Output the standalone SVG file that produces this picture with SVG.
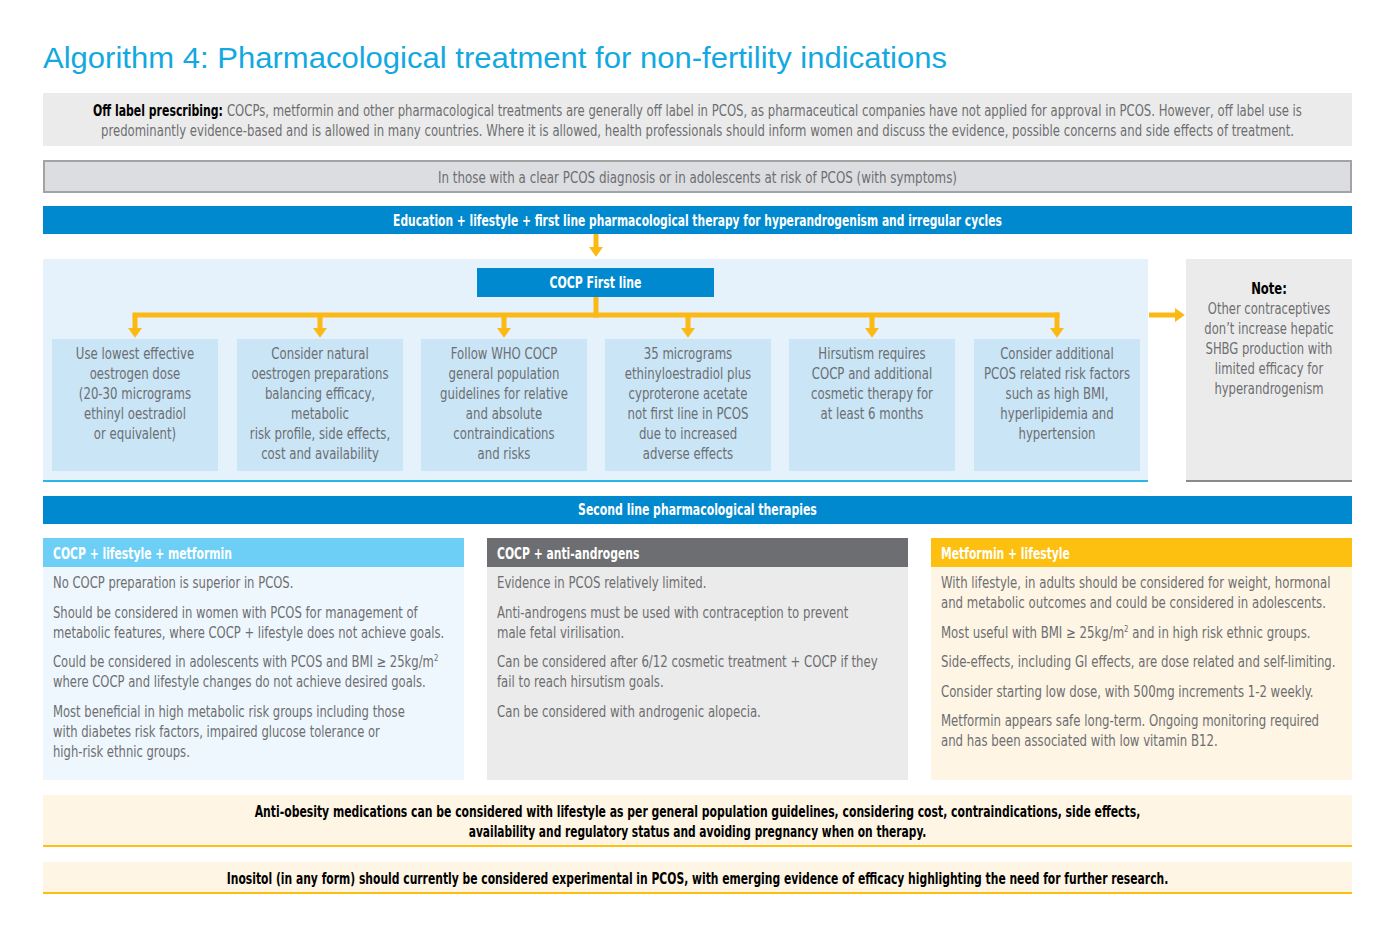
<svg xmlns="http://www.w3.org/2000/svg" width="1395" height="939" viewBox="0 0 1395 939">
<style>
.t{font-family:"Liberation Sans Narrow","Arial Narrow","DejaVu Sans Condensed",sans-serif;font-size:15px;fill:#6d6e71}
.c{text-anchor:middle}
.b{font-weight:bold}
.w{fill:#fff}
.k{fill:#000}
.y{stroke:#fdb913;stroke-width:5;fill:none}
.sup{font-size:9px}
.box{fill:#c9e5f6}
</style>
<defs>
<marker id="ah" viewBox="0 0 7 10" refX="0" refY="5" markerWidth="2" markerHeight="2.8" orient="auto" markerUnits="strokeWidth">
<path d="M0,0 L7,5 L0,10 z" fill="#fdb913"/>
</marker>
</defs>
<rect width="1395" height="939" fill="#fff"/>
<g id="title">
<text x="43" y="68" font-family="Liberation Sans, Arial, sans-serif" font-size="30" fill="#13a8e0" textLength="904" lengthAdjust="spacingAndGlyphs">Algorithm 4: Pharmacological treatment for non-fertility indications</text>
</g>
<g id="offlabel">
<rect x="43" y="93" width="1309" height="53" fill="#ebebeb"/>
<g transform="matrix(.87 0 0 1 0 0)">
<text class="t b k" x="106.9" y="116" textLength="149.4" lengthAdjust="spacingAndGlyphs">Off label prescribing:</text>
<text class="t" x="260.9" y="116" textLength="1235.6" lengthAdjust="spacingAndGlyphs">COCPs, metformin and other pharmacological treatments are generally off label in PCOS, as pharmaceutical companies have not applied for approval in PCOS. However, off label use is</text>
<text class="t" x="116.1" y="136" textLength="1371.3" lengthAdjust="spacingAndGlyphs">predominantly evidence-based and is allowed in many countries. Where it is allowed, health professionals should inform women and discuss the evidence, possible concerns and side effects of treatment.</text>
</g>
</g>
<g id="population">
<rect x="44" y="161" width="1307" height="31" fill="#dcdde0" stroke="#a3a3a3" stroke-width="2"/>
<text class="t c" x="697.5" y="183" font-size="14.2" textLength="519" lengthAdjust="spacingAndGlyphs">In those with a clear PCOS diagnosis or in adolescents at risk of PCOS (with symptoms)</text>
</g>
<g id="firstline-bar">
<rect x="43" y="206" width="1309" height="28" fill="#0089cf"/>
<g transform="matrix(.8 0 0 1 139.5 0)">
<text class="t c b w" x="697.5" y="226" textLength="761" lengthAdjust="spacingAndGlyphs">Education + lifestyle + first line pharmacological therapy for hyperandrogenism and irregular cycles</text>
</g>
</g>
<g id="firstline-panel">
<rect x="43" y="259" width="1105" height="222" fill="#e6f2fb"/>
<rect x="43" y="480" width="1105" height="2" fill="#29b6e8"/>
</g>
<g id="cocp">
<rect x="477" y="268" width="237" height="29" fill="#0089cf"/>
<g transform="matrix(.81 0 0 1 113.1 0)">
<text class="t c b w" x="595.5" y="288">COCP First line</text>
</g>
</g>
<g id="box1">
<rect class="box" x="52" y="339" width="166" height="132"/>
<g transform="matrix(.87 0 0 1 17.55 0)">
<text class="t c" x="135" y="359">Use lowest effective</text>
<text class="t c" x="135" y="379">oestrogen dose</text>
<text class="t c" x="135" y="399">(20-30 micrograms</text>
<text class="t c" x="135" y="419">ethinyl oestradiol</text>
<text class="t c" x="135" y="439">or equivalent)</text>
</g>
</g>
<g id="box2">
<rect class="box" x="237" y="339" width="166" height="132"/>
<g transform="matrix(.87 0 0 1 41.6 0)">
<text class="t c" x="320" y="359">Consider natural</text>
<text class="t c" x="320" y="379">oestrogen preparations</text>
<text class="t c" x="320" y="399">balancing efficacy,</text>
<text class="t c" x="320" y="419">metabolic</text>
<text class="t c" x="320" y="439">risk profile, side effects,</text>
<text class="t c" x="320" y="459">cost and availability</text>
</g>
</g>
<g id="box3">
<rect class="box" x="421" y="339" width="166" height="132"/>
<g transform="matrix(.87 0 0 1 65.52 0)">
<text class="t c" x="504" y="359">Follow WHO COCP</text>
<text class="t c" x="504" y="379">general population</text>
<text class="t c" x="504" y="399">guidelines for relative</text>
<text class="t c" x="504" y="419">and absolute</text>
<text class="t c" x="504" y="439">contraindications</text>
<text class="t c" x="504" y="459">and risks</text>
</g>
</g>
<g id="box4">
<rect class="box" x="605" y="339" width="166" height="132"/>
<g transform="matrix(.87 0 0 1 89.44 0)">
<text class="t c" x="688" y="359">35 micrograms</text>
<text class="t c" x="688" y="379">ethinyloestradiol plus</text>
<text class="t c" x="688" y="399">cyproterone acetate</text>
<text class="t c" x="688" y="419">not first line in PCOS</text>
<text class="t c" x="688" y="439">due to increased</text>
<text class="t c" x="688" y="459">adverse effects</text>
</g>
</g>
<g id="box5">
<rect class="box" x="789" y="339" width="166" height="132"/>
<g transform="matrix(.87 0 0 1 113.36 0)">
<text class="t c" x="872" y="359">Hirsutism requires</text>
<text class="t c" x="872" y="379">COCP and additional</text>
<text class="t c" x="872" y="399">cosmetic therapy for</text>
<text class="t c" x="872" y="419">at least 6 months</text>
</g>
</g>
<g id="box6">
<rect class="box" x="974" y="339" width="166" height="132"/>
<g transform="matrix(.87 0 0 1 137.41 0)">
<text class="t c" x="1057" y="359">Consider additional</text>
<text class="t c" x="1057" y="379">PCOS related risk factors</text>
<text class="t c" x="1057" y="399">such as high BMI,</text>
<text class="t c" x="1057" y="419">hyperlipidemia and</text>
<text class="t c" x="1057" y="439">hypertension</text>
</g>
</g>
<g id="note">
<rect x="1186" y="259" width="166" height="222" fill="#ebebeb"/>
<rect x="1186" y="480" width="166" height="2" fill="#8a8a8a"/>
<g transform="matrix(.86 0 0 1 177.66 0)">
<text class="t c b k" x="1269" y="294">Note:</text>
<text class="t c" x="1269" y="314">Other contraceptives</text>
<text class="t c" x="1269" y="334">don’t increase hepatic</text>
<text class="t c" x="1269" y="354">SHBG production with</text>
<text class="t c" x="1269" y="374">limited efficacy for</text>
<text class="t c" x="1269" y="394">hyperandrogenism</text>
</g>
</g>
<g id="connectors">
<line class="y" x1="596" y1="234" x2="596" y2="247" marker-end="url(#ah)"/>
<line class="y" x1="596" y1="297" x2="596" y2="317.5"/>
<line class="y" x1="132.5" y1="315" x2="1059.5" y2="315"/>
<line class="y" x1="135" y1="315" x2="135" y2="328" marker-end="url(#ah)"/>
<line class="y" x1="320" y1="315" x2="320" y2="328" marker-end="url(#ah)"/>
<line class="y" x1="504" y1="315" x2="504" y2="328" marker-end="url(#ah)"/>
<line class="y" x1="688" y1="315" x2="688" y2="328" marker-end="url(#ah)"/>
<line class="y" x1="872" y1="315" x2="872" y2="328" marker-end="url(#ah)"/>
<line class="y" x1="1057" y1="312.5" x2="1057" y2="328" marker-end="url(#ah)"/>
<line class="y" x1="1149" y1="315" x2="1175" y2="315" marker-end="url(#ah)"/>
</g>
<g id="secondline-bar">
<rect x="43" y="496" width="1309" height="28" fill="#0089cf"/>
<g transform="matrix(.81 0 0 1 132.5 0)">
<text class="t c b w" x="697.5" y="515">Second line pharmacological therapies</text>
</g>
</g>
<g id="col1">
<rect x="43" y="538" width="421" height="29" fill="#6dcff6"/>
<rect x="43" y="567" width="421" height="213" fill="#eef7fd"/>
<g transform="matrix(.8 0 0 1 10.6 0)">
<text class="t b w" x="53" y="559">COCP + lifestyle + metformin</text>
</g>
<g transform="matrix(.86 0 0 1 7.42 0)">
<text class="t" x="53" y="588">No COCP preparation is superior in PCOS.</text>
<text class="t" x="53" y="618">Should be considered in women with PCOS for management of</text>
<text class="t" x="53" y="638">metabolic features, where COCP + lifestyle does not achieve goals.</text>
<text class="t" x="53" y="667">Could be considered in adolescents with PCOS and BMI ≥ 25kg/m<tspan class="sup" dy="-6">2</tspan></text>
<text class="t" x="53" y="687">where COCP and lifestyle changes do not achieve desired goals.</text>
<text class="t" x="53" y="717">Most beneficial in high metabolic risk groups including those</text>
<text class="t" x="53" y="737">with diabetes risk factors, impaired glucose tolerance or</text>
<text class="t" x="53" y="757">high-risk ethnic groups.</text>
</g>
</g>
<g id="col2">
<rect x="487" y="538" width="421" height="29" fill="#6d6e71"/>
<rect x="487" y="567" width="421" height="213" fill="#ebebeb"/>
<g transform="matrix(.8 0 0 1 99.4 0)">
<text class="t b w" x="497" y="559">COCP + anti-androgens</text>
</g>
<g transform="matrix(.87 0 0 1 64.61 0)">
<text class="t" x="497" y="588">Evidence in PCOS relatively limited.</text>
<text class="t" x="497" y="618">Anti-androgens must be used with contraception to prevent</text>
<text class="t" x="497" y="638">male fetal virilisation.</text>
<text class="t" x="497" y="667">Can be considered after 6/12 cosmetic treatment + COCP if they</text>
<text class="t" x="497" y="687">fail to reach hirsutism goals.</text>
<text class="t" x="497" y="717">Can be considered with androgenic alopecia.</text>
</g>
</g>
<g id="col3">
<rect x="931" y="538" width="421" height="29" fill="#fdc010"/>
<rect x="931" y="567" width="421" height="213" fill="#fef5e4"/>
<g transform="matrix(.8 0 0 1 188.2 0)">
<text class="t b w" x="941" y="559">Metformin + lifestyle</text>
</g>
<g transform="matrix(.87 0 0 1 122.33 0)">
<text class="t" x="941" y="588">With lifestyle, in adults should be considered for weight, hormonal</text>
<text class="t" x="941" y="608">and metabolic outcomes and could be considered in adolescents.</text>
<text class="t" x="941" y="638">Most useful with BMI ≥ 25kg/m<tspan class="sup" dy="-6">2</tspan><tspan dy="6"> and in high risk ethnic groups.</tspan></text>
<text class="t" x="941" y="667">Side-effects, including GI effects, are dose related and self-limiting.</text>
<text class="t" x="941" y="697">Consider starting low dose, with 500mg increments 1-2 weekly.</text>
<text class="t" x="941" y="726">Metformin appears safe long-term. Ongoing monitoring required</text>
<text class="t" x="941" y="746">and has been associated with low vitamin B12.</text>
</g>
</g>
<g id="antiobesity">
<rect x="43" y="795" width="1309" height="51" fill="#fef5e4"/>
<rect x="43" y="845" width="1309" height="2" fill="#fdc010"/>
<g transform="matrix(.8 0 0 1 139.5 0)">
<text class="t c b k" x="697.5" y="817" textLength="1107" lengthAdjust="spacingAndGlyphs">Anti-obesity medications can be considered with lifestyle as per general population guidelines, considering cost, contraindications, side effects,</text>
<text class="t c b k" x="697.5" y="837" textLength="572" lengthAdjust="spacingAndGlyphs">availability and regulatory status and avoiding pregnancy when on therapy.</text>
</g>
</g>
<g id="inositol">
<rect x="43" y="862" width="1309" height="31" fill="#fef5e4"/>
<rect x="43" y="892" width="1309" height="2" fill="#fdc010"/>
<g transform="matrix(.8 0 0 1 139.5 0)">
<text class="t c b k" x="697.5" y="884" textLength="1177" lengthAdjust="spacingAndGlyphs">Inositol (in any form) should currently be considered experimental in PCOS, with emerging evidence of efficacy highlighting the need for further research.</text>
</g>
</g>
</svg>
